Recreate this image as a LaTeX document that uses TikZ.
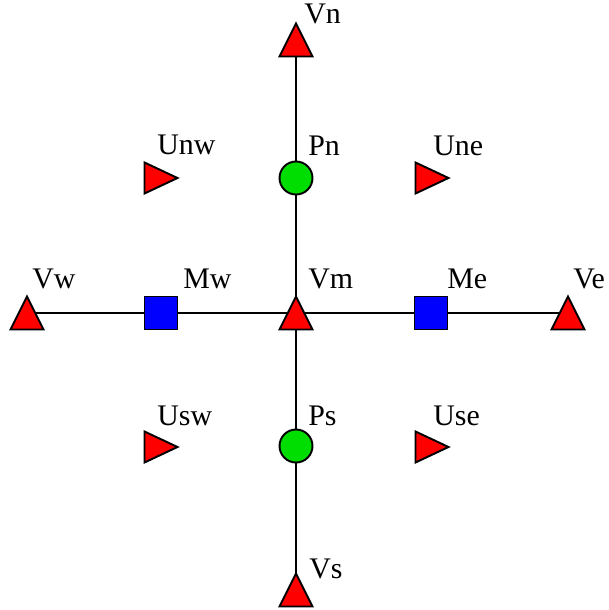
\documentclass[tikz,border=0pt]{standalone}
\usepackage{fontspec}
\setmainfont{Liberation Serif}
\usetikzlibrary{positioning}
\definecolor{mkred}{HTML}{FF0000}
\definecolor{mkblue}{HTML}{0000FF}
\definecolor{mkgreen}{HTML}{00DD00}
\tikzset{
  mk line/.style={draw=black, line width=1.1pt},
  mk tri/.style={draw=black, fill=mkred, line width=1.1pt, line join=miter},
  mk box/.style={rectangle, draw=black, fill=mkblue, line width=1.1pt,
    minimum size=6.6mm, inner sep=0pt},
  mk dot/.style={circle, draw=black, fill=mkgreen, line width=1.1pt,
    minimum size=6.6mm, inner sep=0pt},
  mk label/.style={anchor=base west, inner sep=0pt, font=\fontsize{17}{20}\selectfont}
}
\begin{document}
\begin{tikzpicture}[x=0.2mm, y=-0.2mm]
  \useasboundingbox (0,0) rectangle (609,610);
  % marker centres
  \coordinate (vn) at (296,40);
  \coordinate (vw) at (27,313);
  \coordinate (vm) at (296,313);
  \coordinate (ve) at (568,313);
  \coordinate (vs) at (296,590);
  \coordinate (unw) at (161,178);
  \coordinate (une) at (432,178);
  \coordinate (usw) at (161,447);
  \coordinate (use) at (432,447);
  % axes
  \draw[mk line] (vn) -- (vs);
  \draw[mk line] (vw) -- (ve);
  % upward triangles
  \foreach \p in {vn,vw,vm,ve,vs}
    \draw[mk tri, shift={(\p)}] (-16.5,16.5) -- (0,-16.5) -- (16.5,16.5) -- cycle;
  % right-pointing triangles
  \foreach \p in {unw,une,usw,use}
    \draw[mk tri, shift={(\p)}] (-16.5,-15.5) -- (16.5,0) -- (-16.5,15.5) -- cycle;
  \node[mk box] (mw) at (161,313) {};
  \node[mk box] (me) at (431,313) {};
  \node[mk dot] (pn) at (296,178) {};
  \node[mk dot] (ps) at (296,446) {};
  % labels
  \node[mk label] (lvn) at (304,24) {Vn};
  \node[mk label] (lunw) at (157,154) {Unw};
  \node[mk label] (lpn) at (308,155) {Pn};
  \node[mk label] (lune) at (433,155) {Une};
  \node[mk label] (lvw) at (32,288) {Vw};
  \node[mk label] (lmw) at (183,288) {Mw};
  \node[mk label] (lvm) at (308,288) {Vm};
  \node[mk label] (lme) at (447,288) {Me};
  \node[mk label] (lve) at (573,288) {Ve};
  \node[mk label] (lusw) at (157,425) {Usw};
  \node[mk label] (lps) at (308,425) {Ps};
  \node[mk label] (luse) at (433,425) {Use};
  \node[mk label] (lvs) at (309,578) {Vs};
\end{tikzpicture}
\end{document}
